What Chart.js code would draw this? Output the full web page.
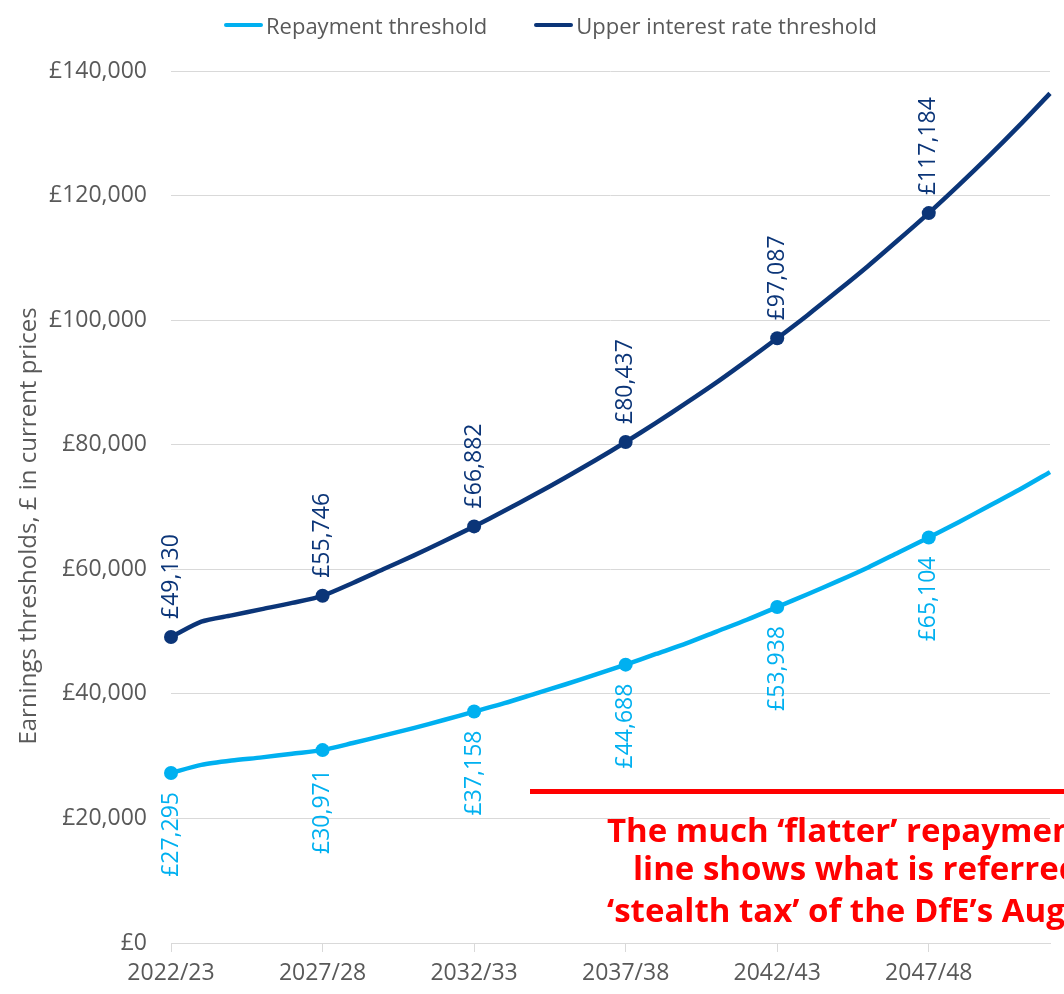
<!DOCTYPE html>
<html>
<head>
<meta charset="utf-8">
<title>Repayment and upper interest rate thresholds</title>
<script src="https://cdn.jsdelivr.net/npm/chart.js@4/dist/chart.umd.min.js"></script>
<style>
    html, body { margin: 0; padding: 0; background: #fff; overflow: hidden; }
    #wrap { position: relative; width: 1064px; height: 994px; overflow: hidden; }
    #legend { position: absolute; left: 224px; top: 10px; display: flex; align-items: center;
              font-family: 'Open Sans', sans-serif; font-size: 22px; color: #595959; white-space: nowrap; }
    .item { display: flex; align-items: center; margin-right: 47px; }
    .swatch { width: 39px; height: 4px; border-radius: 2px; margin-right: 3px; }
    #redline { position: absolute; left: 530px; top: 789px; width: 600px; height: 5px; background: #ff0000; }
    .note { position: absolute; font-family: 'Open Sans', sans-serif; font-weight: 700; font-size: 33px;
            line-height: 40px; color: #ff0000; white-space: nowrap; }
</style>
</head>
<body>
<div id="wrap">
    <canvas id="thresholdChart" width="1064" height="994"></canvas>
    <div id="legend"></div>
    <div id="redline"></div>
    <div class="note" style="left:607px; top:810px;">The much ‘flatter’ repayment</div>
    <div class="note" style="left:633px; top:848px;">line shows what is referred</div>
    <div class="note" style="left:607px; top:890px;">‘stealth tax’ of the DfE’s August</div>
</div>
<script>
// 값
const years = [
    '2022/23', '2023/24', '2024/25', '2025/26', '2026/27',
    '2027/28', '2028/29', '2029/30', '2030/31', '2031/32',
    '2032/33', '2033/34', '2034/35', '2035/36', '2036/37',
    '2037/38', '2038/39', '2039/40', '2040/41', '2041/42',
    '2042/43', '2043/44', '2044/45', '2045/46', '2046/47',
    '2047/48', '2048/49', '2049/50', '2050/51', '2051/52'
];
const repayment = [
    27295, 28600, 29300, 29800, 30400,
    30971, 32100, 33300, 34500, 35800,
    37158, 38500, 40000, 41500, 43100,
    44688, 46400, 48100, 50000, 51900,
    53938, 56000, 58100, 60300, 62700,
    65104, 67600, 70200, 72800, 75600
];
const upperRate = [
    49130, 51600, 52600, 53600, 54600,
    55746, 57800, 60000, 62200, 64500,
    66882, 69400, 72000, 74700, 77500,
    80437, 83500, 86700, 90000, 93500,
    97087, 100800, 104700, 108700, 112900,
    117184, 121700, 126400, 131300, 136400
];
const yTicks = [0, 20000, 40000, 60000, 80000, 100000, 120000, 140000];
const labelEvery = 5;
const yTitle = 'Earnings thresholds, £ in current prices';

const lightBlue = '#00b0f0';
const navy = '#0b3578';
const greyText = '#595959';
const gridGrey = '#d9d9d9';
const fontFamily = "'Open Sans', sans-serif";

const money = v => '£' + Number(v).toLocaleString('en-GB');

// 범례 (HTML)
const legendEl = document.getElementById('legend');
[['Repayment threshold', lightBlue], ['Upper interest rate threshold', navy]].forEach(([text, color]) => {
    const item = document.createElement('div');
    item.className = 'item';
    const sw = document.createElement('span');
    sw.className = 'swatch';
    sw.style.background = color;
    const label = document.createElement('span');
    label.textContent = text;
    item.appendChild(sw);
    item.appendChild(label);
    legendEl.appendChild(item);
});

// 세로 데이터 라벨 + y축 제목
const pointLabels = {
    id: 'pointLabels',
    afterDatasetsDraw(chart) {
        const ctx = chart.ctx;
        chart.data.datasets.forEach((ds, i) => {
            const meta = chart.getDatasetMeta(i);
            meta.data.forEach((pt, j) => {
                if (j % labelEvery !== 0) return;
                ctx.save();
                ctx.translate(pt.x, pt.y + (ds.labelAbove ? -18 : 19));
                ctx.rotate(-Math.PI / 2);
                ctx.textAlign = ds.labelAbove ? 'left' : 'right';
                ctx.textBaseline = 'middle';
                ctx.font = '23px ' + fontFamily;
                ctx.fillStyle = ds.borderColor;
                ctx.fillText(money(ds.data[j]), 0, 0);
                ctx.restore();
            });
        });

        // 제목은 축 중앙보다 조금 아래
        const area = chart.chartArea;
        ctx.save();
        ctx.translate(29, (area.top + area.bottom) / 2 + 19);
        ctx.rotate(-Math.PI / 2);
        ctx.textAlign = 'center';
        ctx.textBaseline = 'middle';
        ctx.font = '24px ' + fontFamily;
        ctx.fillStyle = greyText;
        ctx.fillText(yTitle, 0, 0);
        ctx.restore();
    }
};

const canvas = document.getElementById('thresholdChart');
if (typeof Chart !== 'undefined' && canvas) {
    new Chart(canvas.getContext('2d'), {
        type: 'line',
        data: {
            labels: years,
            datasets: [{
                label: 'Repayment threshold',
                data: repayment,
                borderColor: lightBlue,
                backgroundColor: lightBlue,
                borderWidth: 4.5,
                tension: 0.25,
                pointRadius: c => c.dataIndex % labelEvery === 0 ? 7 : 0,
                pointBorderWidth: 0,
                labelAbove: false
            }, {
                label: 'Upper interest rate threshold',
                data: upperRate,
                borderColor: navy,
                backgroundColor: navy,
                borderWidth: 4.5,
                tension: 0.25,
                pointRadius: c => c.dataIndex % labelEvery === 0 ? 7 : 0,
                pointBorderWidth: 0,
                labelAbove: true
            }]
        },
        options: {
            responsive: false,
            animation: false,
            layout: { padding: { top: 71, right: 14, bottom: 0, left: 12 } },
            plugins: {
                legend: { display: false },
                tooltip: { enabled: false }
            },
            scales: {
                x: {
                    offset: false,
                    afterFit: s => { s.height = 51; },
                    grid: {
                        display: true,
                        drawOnChartArea: false,
                        drawTicks: true,
                        tickLength: 9,
                        color: c => c.index % labelEvery === 0 ? gridGrey : 'rgba(0,0,0,0)'
                    },
                    border: { display: true, color: gridGrey, width: 1 },
                    ticks: {
                        autoSkip: false,
                        maxRotation: 0,
                        padding: 8,
                        color: greyText,
                        font: { family: fontFamily, size: 23 },
                        callback: (v, i) => i % labelEvery === 0 ? years[i] : ''
                    }
                },
                y: {
                    min: 0,
                    max: 140000,
                    afterBuildTicks: s => { s.ticks = yTicks.map(v => ({ value: v })); },
                    afterFit: s => { s.width = 159; },
                    grid: { color: gridGrey, drawTicks: false },
                    border: { display: false },
                    ticks: {
                        padding: 24,
                        color: greyText,
                        font: { family: fontFamily, size: 23 },
                        callback: v => money(v)
                    },
                    title: { display: false, text: yTitle }
                }
            }
        },
        plugins: [pointLabels]
    });
}
</script>
</body>
</html>
